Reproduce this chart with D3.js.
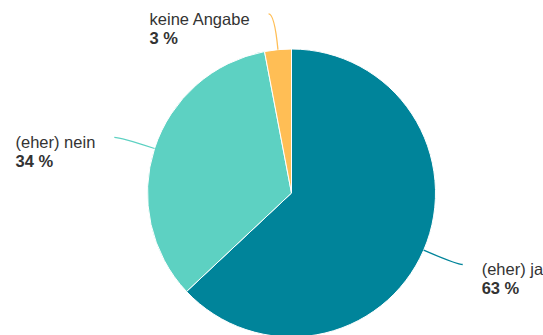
<!DOCTYPE html>
<html>
<head>
<meta charset="utf-8">
<script src="https://cdn.jsdelivr.net/npm/d3@7"></script>
<style>
  html, body { margin: 0; padding: 0; background: #fff; }
  svg { display: block; }
  text { font-family: "Liberation Sans", Arial, Helvetica, sans-serif; fill: #333; }
</style>
</head>
<body>
<svg id="chart" width="543" height="335"></svg>
<script>
// Survey answers, shares in percent
const categories = ["(eher) ja", "(eher) nein", "keine Angabe"];
const values = [63, 34, 3];
const valueLabels = ["63 %", "34 %", "3 %"];
const colors = ["#00849a", "#5dd1c2", "#ffbe55"];

const width = 543, height = 335;
const cx = 291.5, cy = 193, radius = 144;

const svg = d3.select("#chart");
const g = svg.append("g").attr("transform", `translate(${cx},${cy})`);

const data = categories.map((c, i) => ({ name: c, value: values[i], label: valueLabels[i], color: colors[i] }));

const pie = d3.pie().sort(null).value(d => d.value);
const arc = d3.arc().innerRadius(0).outerRadius(radius);
const arcs = pie(data);

g.selectAll("path.slice")
  .data(arcs)
  .join("path")
  .attr("class", "slice")
  .attr("d", arc)
  .attr("fill", d => d.data.color)
  .attr("stroke", "#fff")
  .attr("stroke-width", 1);

// Connector geometry: leave the slice edge along its mid-angle,
// bend at a fixed distance, then a short horizontal run to the label.
const bendDist = 180, tail = 6, labelGap = 19, fontSize = 16.5;

arcs.forEach(d => {
  const a = (d.startAngle + d.endAngle) / 2;
  const sx = Math.sin(a), sy = -Math.cos(a);
  const right = sx >= 0;
  const p0 = [sx * radius, sy * radius];
  const p1 = [sx * bendDist, sy * bendDist];
  const p2 = [p1[0] + (right ? tail : -tail), p1[1]];

  const path = d3.path();
  path.moveTo(p0[0], p0[1]);
  path.quadraticCurveTo(p1[0], p1[1], p2[0], p2[1]);
  g.append("path")
    .attr("d", path.toString())
    .attr("fill", "none")
    .attr("stroke", d.data.color)
    .attr("stroke-width", 1.3);

  const lab = g.append("g");
  const t1 = lab.append("text")
    .attr("y", p2[1] + 11)
    .style("font-size", fontSize + "px")
    .text(d.data.name);
  const t2 = lab.append("text")
    .attr("y", p2[1] + 30)
    .style("font-size", fontSize + "px")
    .style("font-weight", "bold")
    .text(d.data.label);

  const w = Math.max(t1.node().getComputedTextLength(), t2.node().getComputedTextLength());
  const x = right ? p2[0] + labelGap : p2[0] - labelGap - w;
  t1.attr("x", x);
  t2.attr("x", x);
});
</script>
</body>
</html>
